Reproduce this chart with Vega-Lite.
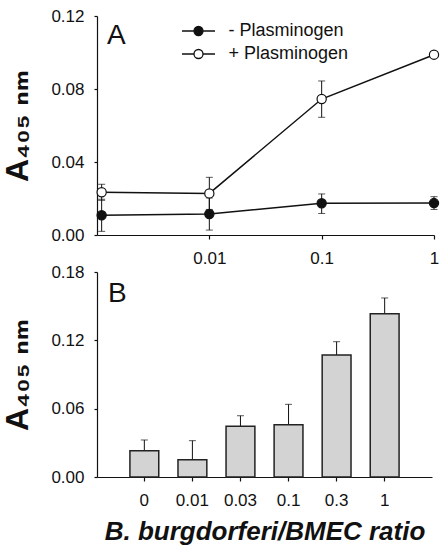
{
  "$schema": "https://vega.github.io/schema/vega-lite/v6.json",
  "background": "white",
  "padding": {"left": 1, "top": 7, "right": 5, "bottom": 5},
  "bounds": "flush",
  "spacing": 37,
  "datasets": {
    "A": [
      {"ratio": 0.0011, "series": "- Plasminogen", "mean": 0.0108, "lo": 0.002, "hi": 0.0196},
      {"ratio": 0.01, "series": "- Plasminogen", "mean": 0.0115, "lo": 0.0027, "hi": 0.0203},
      {"ratio": 0.1, "series": "- Plasminogen", "mean": 0.0174, "lo": 0.0118, "hi": 0.0225},
      {"ratio": 1, "series": "- Plasminogen", "mean": 0.0175, "lo": 0.014, "hi": 0.021},
      {"ratio": 0.0011, "series": "+ Plasminogen", "mean": 0.0234, "lo": 0.019, "hi": 0.0278},
      {"ratio": 0.01, "series": "+ Plasminogen", "mean": 0.0228, "lo": 0.014, "hi": 0.0316},
      {"ratio": 0.1, "series": "+ Plasminogen", "mean": 0.0745, "lo": 0.0645, "hi": 0.0844},
      {"ratio": 1, "series": "+ Plasminogen", "mean": 0.0988, "lo": 0.0978, "hi": 0.0998}
    ],
    "B": [
      {"ratio": "0", "mean": 0.0231, "top": 0.0325},
      {"ratio": "0.01", "mean": 0.0152, "top": 0.0319},
      {"ratio": "0.03", "mean": 0.0445, "top": 0.0538},
      {"ratio": "0.1", "mean": 0.0459, "top": 0.0638},
      {"ratio": "0.3", "mean": 0.1071, "top": 0.1188},
      {"ratio": "1", "mean": 0.1434, "top": 0.1572}
    ]
  },
  "vconcat": [
    {
      "width": 337,
      "height": 219,
      "title": {"text": "A", "anchor": "start", "frame": "group", "fontSize": 28, "fontWeight": "normal", "offset": -43, "dx": 10, "color": "#111"},
      "data": {"name": "A"},
      "encoding": {
        "x": {"field": "ratio", "type": "quantitative", "scale": {"type": "log", "domain": [0.001, 1], "nice": false},
              "axis": {"values": [0.01, 0.1, 1], "format": "~g", "title": null}}
      },
      "layer": [
        {
          "mark": {"type": "rule", "color": "#111", "strokeWidth": 1},
          "encoding": {
            "y": {"field": "lo", "type": "quantitative"},
            "y2": {"field": "hi"},
            "detail": {"field": "series"}
          }
        },
        {
          "mark": {"type": "tick", "orient": "horizontal", "color": "#111", "size": 7, "thickness": 1},
          "encoding": {"y": {"field": "lo", "type": "quantitative"}}
        },
        {
          "mark": {"type": "tick", "orient": "horizontal", "color": "#111", "size": 7, "thickness": 1},
          "encoding": {"y": {"field": "hi", "type": "quantitative"}}
        },
        {
          "mark": {"type": "line", "color": "#111", "strokeWidth": 1.5},
          "encoding": {
            "y": {"field": "mean", "type": "quantitative"},
            "detail": {"field": "series"}
          }
        },
        {
          "mark": {"type": "point", "shape": "circle", "filled": true, "size": 85, "stroke": "#111", "strokeWidth": 1.2, "opacity": 1},
          "encoding": {
            "y": {"field": "mean", "type": "quantitative",
                  "scale": {"domain": [0, 0.12], "nice": false},
                  "axis": {"values": [0, 0.04, 0.08, 0.12], "format": ".2f", "title": "A₄₀₅ ₙₘ"}},
            "fill": {"field": "series", "type": "nominal",
                     "scale": {"domain": ["- Plasminogen", "+ Plasminogen"], "range": ["#111111", "#ffffff"]},
                     "legend": {"orient": "none", "legendX": 92.5, "legendY": 6, "title": null, "padding": 0,
                                "symbolType": "M-3.3,0H-0.9M0.9,0H3.3M0.9,0C0.9,0.497,0.497,0.9,0,0.9C-0.497,0.9,-0.9,0.497,-0.9,0C-0.9,-0.497,-0.497,-0.9,0,-0.9C0.497,-0.9,0.9,-0.497,0.9,0Z",
                                "symbolSize": 100, "symbolStrokeColor": "#111", "symbolStrokeWidth": 1.3, "symbolOpacity": 1,
                                "labelFontSize": 18, "labelFont": "Liberation Sans", "labelColor": "#111", "labelOffset": 21, "rowPadding": 5}}
          }
        }
      ]
    },
    {
      "width": 335,
      "height": 205,
      "title": {"text": "B", "anchor": "start", "frame": "group", "fontSize": 28, "fontWeight": "normal", "offset": -45, "dx": 11, "color": "#111"},
      "data": {"name": "B"},
      "encoding": {
        "x": {"field": "ratio", "type": "nominal", "sort": null,
              "scale": {"paddingInner": 0.4, "paddingOuter": 0.685},
              "axis": {"title": "B. burgdorferi/BMEC ratio"}}
      },
      "layer": [
        {
          "mark": {"type": "rule", "color": "#111", "strokeWidth": 1},
          "encoding": {
            "y": {"field": "mean", "type": "quantitative"},
            "y2": {"field": "top"}
          }
        },
        {
          "mark": {"type": "tick", "orient": "horizontal", "color": "#111", "size": 7, "thickness": 1},
          "encoding": {"y": {"field": "top", "type": "quantitative"}}
        },
        {
          "mark": {"type": "bar", "fill": "#d3d3d3", "stroke": "#222", "strokeWidth": 1.5},
          "encoding": {
            "y": {"field": "mean", "type": "quantitative",
                  "scale": {"domain": [0, 0.18], "nice": false},
                  "axis": {"values": [0, 0.06, 0.12, 0.18], "format": ".2f", "title": "A₄₀₅ ₙₘ"}}
          }
        }
      ]
    }
  ],
  "config": {
    "font": "Liberation Sans",
    "view": {"stroke": null},
    "axis": {"grid": false, "domainColor": "#111", "tickColor": "#111", "labelColor": "#111", "titleColor": "#111",
             "labelFont": "Liberation Sans", "labelFontSize": 17, "domainWidth": 1.2, "tickWidth": 1.2, "labelFlush": false},
    "axisY": {"tickSize": 3, "labelPadding": 10, "titleFont": "Liberation Sans, DejaVu Sans", "titleFontSize": 32, "titleFontWeight": "bold", "titlePadding": 16},
    "axisX": {"tickSize": 4, "labelPadding": 11, "labelAngle": 0, "titleFont": "Liberation Sans", "titleFontSize": 26, "titleFontWeight": "bold", "titleFontStyle": "italic", "titlePadding": 10}
  }
}
